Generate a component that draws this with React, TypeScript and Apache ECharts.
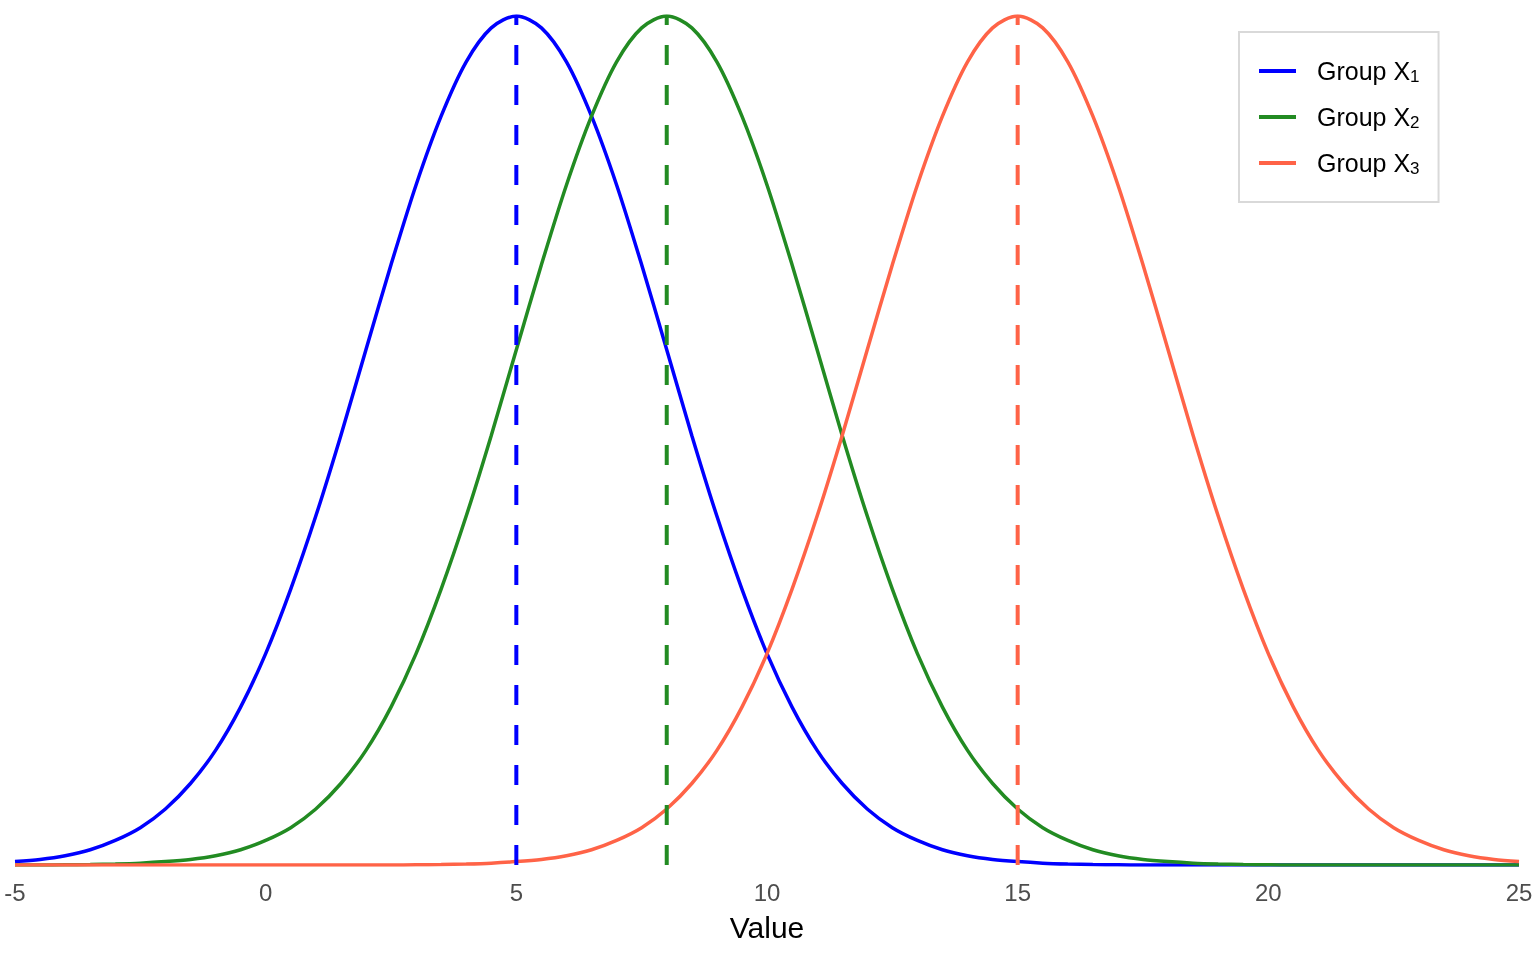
import React, { useEffect, useRef } from "react";
import * as echarts from "echarts";

const xValues = [-5, -4.5, -4, -3.5, -3, -2.5, -2, -1.5, -1, -0.5, 0, 0.5, 1, 1.5, 2, 2.5, 3, 3.5, 4, 4.5, 5, 5.5, 6, 6.5, 7, 7.5, 8, 8.5, 9, 9.5, 10, 10.5, 11, 11.5, 12, 12.5, 13, 13.5, 14, 14.5, 15, 15.5, 16, 16.5, 17, 17.5, 18, 18.5, 19, 19.5, 20, 20.5, 21, 21.5, 22, 22.5, 23, 23.5, 24, 24.5, 25];
const groupX1 = [
  0.004, 0.0066, 0.011, 0.018, 0.029, 0.044, 0.066, 0.096, 0.135, 0.186, 0.249, 0.325, 0.411, 0.506, 0.607, 0.707, 0.801, 0.882, 0.946, 0.986, 1,
  0.986, 0.946, 0.882, 0.801, 0.707, 0.607, 0.506, 0.411, 0.325, 0.249, 0.186, 0.135, 0.096, 0.066, 0.044, 0.029, 0.018, 0.011, 0.0066, 0.004, 0.0022, 0.0012, 0.0006, 0.0003,
  0, 0, 0, 0, 0, 0, 0, 0, 0, 0, 0, 0, 0, 0, 0, 0,
];
const groupX2 = [
  0, 0, 0.0003, 0.0006, 0.0012, 0.0022, 0.004, 0.0066, 0.011, 0.018, 0.029, 0.044, 0.066, 0.096, 0.135, 0.186, 0.249, 0.325, 0.411, 0.506, 0.607, 0.707, 0.801, 0.882, 0.946, 0.986, 1,
  0.986, 0.946, 0.882, 0.801, 0.707, 0.607, 0.506, 0.411, 0.325, 0.249, 0.186, 0.135, 0.096, 0.066, 0.044, 0.029, 0.018, 0.011, 0.0066, 0.004, 0.0022, 0.0012, 0.0006, 0.0003,
  0, 0, 0, 0, 0, 0, 0, 0, 0, 0,
];
const groupX3 = [
  0, 0, 0, 0, 0, 0, 0, 0, 0, 0, 0, 0, 0, 0, 0, 0,
  0.0003, 0.0006, 0.0012, 0.0022, 0.004, 0.0066, 0.011, 0.018, 0.029, 0.044, 0.066, 0.096, 0.135, 0.186, 0.249, 0.325, 0.411, 0.506, 0.607, 0.707, 0.801, 0.882, 0.946, 0.986, 1,
  0.986, 0.946, 0.882, 0.801, 0.707, 0.607, 0.506, 0.411, 0.325, 0.249, 0.186, 0.135, 0.096, 0.066, 0.044, 0.029, 0.018, 0.011, 0.0066, 0.004,
];
const groupNames = ["Group X1", "Group X2", "Group X3"];
const groupMeans = [5, 8, 15];
const groupColors = ["#0000FF", "#228B22", "#FF6347"];
const xTicks = [-5, 0, 5, 10, 15, 20, 25];

export default function App() {
  const ref = useRef<HTMLDivElement>(null);
  useEffect(() => {
    document.body.style.margin = "0";
    const chart = echarts.init(ref.current!, null, { renderer: "svg" });
    const curves = [groupX1, groupX2, groupX3];
    const font = "Liberation Sans, Arial, sans-serif";
    const series: any[] = [];
    curves.forEach((ys, i) => {
      series.push({
        name: groupNames[i],
        type: "line",
        data: xValues.map((x, j) => [x, ys[j]]),
        smooth: 0.3,
        showSymbol: false,
        symbol: "none",
        lineStyle: { color: groupColors[i], width: 3.5 },
        itemStyle: { color: groupColors[i] },
        z: 3,
      });
    });
    groupMeans.forEach((m, i) => {
      series.push({
        name: "mean" + (i + 1),
        type: "line",
        data: [[m, 0], [m, 1]],
        showSymbol: false,
        symbol: "none",
        lineStyle: { color: groupColors[i], width: 4, type: [20, 20] },
        z: 4,
      });
    });
    chart.setOption({
      animation: false,
      textStyle: { fontFamily: font },
      grid: { left: 15, right: 17, top: 16, bottom: 95, containLabel: false },
      xAxis: {
        type: "value",
        min: xTicks[0],
        max: xTicks[xTicks.length - 1],
        interval: 5,
        name: "Value",
        nameLocation: "middle",
        nameGap: 47,
        nameTextStyle: { fontSize: 30, color: "#000", fontFamily: font },
        axisLine: { show: false },
        axisTick: { show: false },
        splitLine: { show: false },
        axisLabel: { fontSize: 24, color: "#4d4d4d", margin: 15, fontFamily: font },
      },
      yAxis: { type: "value", min: 0, max: 1, show: false },
      legend: {
        data: groupNames,
        orient: "vertical",
        left: 1239,
        top: 32,
        padding: [25, 19, 25, 20],
        borderColor: "#d9d9d9",
        borderWidth: 2,
        itemGap: 18,
        itemWidth: 37,
        itemHeight: 4,
        icon: "rect",
        formatter: (name: string) => name.slice(0, -1) + "{s|" + name.slice(-1) + "}",
        textStyle: {
          fontSize: 25,
          color: "#000",
          fontFamily: font,
          padding: [0, 0, 0, 16],
          lineHeight: 28,
          rich: {
            s: { fontSize: 17, fontFamily: font, color: "#000", lineHeight: 12, verticalAlign: "bottom" },
          },
        },
      },
      series,
    });
    return () => chart.dispose();
  }, []);
  return <div ref={ref} style={{ position: "fixed", left: 0, top: 0, width: 1536, height: 960 }} />;
}
